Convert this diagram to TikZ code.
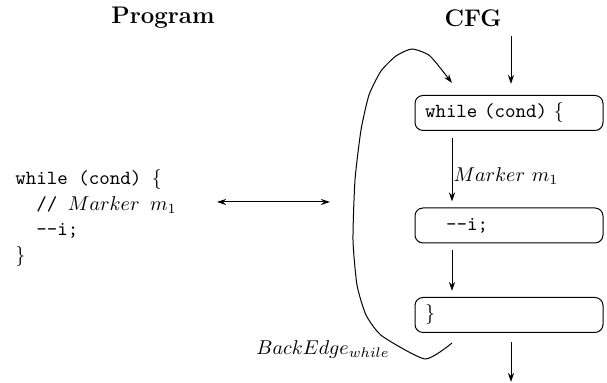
\documentclass[tikz,border=0pt]{standalone}
\usetikzlibrary{arrows.meta,positioning}
\tikzset{
  >={Stealth[length=4.5pt,width=3pt]},
  title/.style={font=\large\bfseries},
  block/.style={draw, rounded corners=4pt, minimum width=94pt, minimum height=17.5pt,
    text width=84pt, inner xsep=5pt, align=left, font=\ttfamily},
  code/.style={align=left, font=\ttfamily, inner sep=0pt},
  lab/.style={inner sep=0.5pt},
}

\begin{document}
\begin{tikzpicture}[x=0.5pt, y=-0.5pt, line width=0.5pt]
  \useasboundingbox (0,0) rectangle (607,383);
  % headings
  \node[title] (progtitle) at (163,18) {Program};
  \node[title] (cfgtitle) at (473,18) {CFG};
  % source code
  \node[code, anchor=west] (prog) at (15,218)
    {while (cond) $\{$\\[0.9pt]
     \hphantom{xx}// $Marker\ m_1$\\[0.9pt]
     \hphantom{xx}-{}-i;\\[0.9pt]
     $\}$};
  \coordinate (mapl) at (217,202);
  \coordinate (mapr) at (330,202);
  \draw[<->] (mapl) -- (mapr);
  % control flow graph
  \node[block] (b1) at (509,113) {while (cond) $\{$};
  \node[block] (b2) at (509,225.5) {\hphantom{xx}-{}-i;};
  \node[block] (b3) at (509,315) {$\}$};
  \coordinate (col) at (452,0);
  \coordinate (entry) at (511,36);
  \coordinate (exit) at (511,382);
  \draw[->] (entry) -- ([yshift=5.5pt]b1.north -| entry);
  \draw[->] ([yshift=-3.5pt]b1.south -| col) --
    node[lab, right, pos=0.6] {$Marker\ m_1$} ([yshift=3pt]b2.north -| col);
  \draw[->] ([yshift=-3.5pt]b2.south -| col) -- ([yshift=3pt]b3.north -| col);
  \draw[->] ([yshift=-4.5pt]b3.south -| exit) -- (exit);
  % back edge of the loop
  \coordinate (loopout) at ([yshift=-5pt]b3.south -| col);
  \coordinate (loopin) at ([yshift=6pt]b1.north -| col);
  \draw[->] plot[smooth, tension=0.35] coordinates
    {(loopout) (425,359) (382,336) (366,315) (357,285) (353,240) (355,180)
     (361,130) (369,95) (381,71) (396,56) (412,49) (430,56) (loopin)};
  \node[lab, anchor=base east] (backlab) at (391,355) {$BackEdge_{while}$};
\end{tikzpicture}
\end{document}
